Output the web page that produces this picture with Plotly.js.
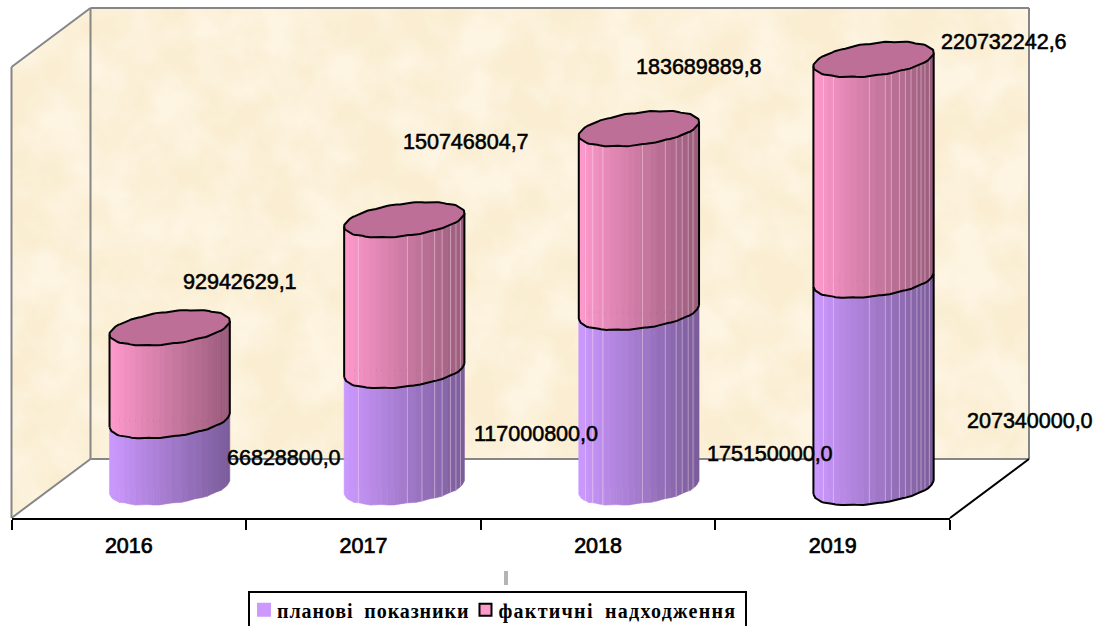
<!DOCTYPE html>
<html>
<head>
<meta charset="utf-8">
<script src="https://cdn.plot.ly/plotly-3.0.1.min.js"></script>
<style>
html,body{margin:0;padding:0;background:#fff;overflow:hidden}
.annotation-text{stroke:#000;stroke-width:.55px;letter-spacing:-.05px}
.xtick text{stroke:#000;stroke-width:.7px}
.legend .legendtext{font-size:20px !important;letter-spacing:.9px;word-spacing:5px;transform:translate(-13px,-3px)}
.legend .traces:nth-child(2) .legendtext{letter-spacing:1.27px}
.legend .legendsymbols{transform:translate(-6px,-3px)}
.legend .traces:nth-child(1) .legendsymbols path{stroke:#CC99FF !important;stroke-width:2px !important}
.legend .bg{height:35px}
</style>
</head>
<body>
<div id="chart" style="width:1096px;height:626px"></div>
<script>
// ---- data ----
const categories = ['2016', '2017', '2018', '2019'];
const plannedValues = [66828800.0, 117000800.0, 175150000.0, 207340000.0];
const actualValues = [92942629.1, 150746804.7, 183689889.8, 220732242.6];
const plannedName = 'планові показники';
const actualName = 'фактичні надходження\u00A0\u00A0\u00A0';

// ---- pseudo-3D scene, in axis units ----
const W = 1096, H = 626;
const axisLeft = 11.5, axisRight = 950, axisY = 518;
const depthX = 79 / 234.6, depthY = 59e6, wallMax = 451e6;
const rx = 0.236, rd = 0.2966, cylDepth = 0.517, cylBase = 30.5e6;
const xIdx = categories.map((c, i) => i);
const xCentre = xIdx.map(i => i + cylDepth * depthX);
const tau = Math.atan2(depthX * rd, rx);
const pxX = x => axisLeft + (x + 0.5) * (axisRight - axisLeft) / 4;
const pxY = v => axisY - v / 1e6;

const stripEdges = [0,.04,.083,.125,.166,.216,.266,.313,.363,.416,.465,.52,.598,.648,.715,.765,.812,.861,.895,.928,.964,1];
const seams = [
  [],
  [.118,.526,.647,.752,.815,.884,.93,.967],
  [.055,.116,.2,.53,.72,.81,.86,.91,.95],
  [.083,.166,.465,.598,.648,.715,.765,.812,.861,.895,.928,.964]
];
const plannedRGB = [204,153,255], actualRGB = [255,153,204];
const shade = (rgb, f) => `rgb(${rgb.map(c => Math.round(c * (1 - 0.4 * f))).join(',')})`;

const ang = f => tau - Math.acos(2 * f - 1);
const ptX = (i, t) => xCentre[i] + rx * Math.cos(t) + depthX * rd * Math.sin(t);
// the reference's facetted edge is slightly bumpy
const ptY = (v, t) => cylBase + v + depthY * rd * Math.sin(t) + 0.45e6 * Math.sin(15 * t);
const front = (i, v, fs) => ({x: fs.map(f => ptX(i, ang(f))), y: fs.map(f => ptY(v, ang(f)))});

const traces = [];
// real stacked bars: carry the data and the legend; the cylinder skin sits on them
traces.push({type:'bar', name:plannedName, x:xCentre, y:plannedValues, base:plannedValues.map(() => cylBase),
  width:rx*1.9, marker:{color:'#CC99FF', line:{width:0}}, hoverinfo:'skip'});
traces.push({type:'bar', name:actualName, x:xCentre, y:actualValues, base:plannedValues.map(v => cylBase + v),
  width:rx*1.9, marker:{color:'#FF99CC', line:{color:'#000', width:2}}, hoverinfo:'skip'});

function skin(rgb, lo, hi) {
  for (let k = 0; k < stripEdges.length - 1; k++) {
    const f0 = stripEdges[k], f1 = stripEdges[k + 1];
    const xs = [], ys = [];
    categories.forEach((c, i) => {
      const a = lo(i), b = hi(i);
      const sub = [f0, (f0 + f1) / 2, f1];
      const bot = front(i, a, sub), top = front(i, b, sub.slice().reverse());
      xs.push(...bot.x, ...top.x, bot.x[0], null);
      ys.push(...bot.y, ...top.y, bot.y[0], null);
    });
    const col = shade(rgb, (f0 + f1) / 2);
    traces.push({type:'scatter', mode:'lines', x:xs, y:ys, fill:'toself', fillcolor:col,
      line:{color:col, width:0.6}, showlegend:false, hoverinfo:'skip', cliponaxis:false});
  }
}
skin(plannedRGB, () => 0, i => plannedValues[i]);
skin(actualRGB, i => plannedValues[i], i => plannedValues[i] + actualValues[i]);

// seams
{
  const xs = [], ys = [];
  seams.forEach((list, i) => list.forEach(f => {
    const t = ang(f), X = ptX(i, t);
    xs.push(X, X, null);
    ys.push(ptY(0, t), ptY(plannedValues[i] + actualValues[i], t), null);
  }));
  traces.push({type:'scatter', mode:'lines', x:xs, y:ys, line:{color:'rgba(255,235,245,0.42)', width:1},
    showlegend:false, hoverinfo:'skip'});
}

// outlines
const arcF = [];
for (let k = 0; k <= 60; k++) arcF.push(k / 60);
function outlineTrace(parts) {
  const xs = [], ys = [];
  parts.forEach(p => { xs.push(...p.x, null); ys.push(...p.y, null); });
  return {type:'scatter', mode:'lines', x:xs, y:ys, line:{color:'#000', width:2},
    showlegend:false, hoverinfo:'skip'};
}
const parts = [];
categories.forEach((c, i) => {
  const p = plannedValues[i], s = p + actualValues[i];
  parts.push(front(i, p, arcF));
  const tl = ang(0), tr = ang(1);
  parts.push({x:[ptX(i, tl), ptX(i, tl)], y:[ptY(p, tl), ptY(s, tl)]});
  parts.push({x:[ptX(i, tr), ptX(i, tr)], y:[ptY(p, tr), ptY(s, tr)]});
});
// only the last cylinder keeps an outline on its lower section
{
  const i = 3, p = plannedValues[i], tl = ang(0), tr = ang(1);
  parts.push(front(i, 0, arcF));
  parts.push({x:[ptX(i, tl), ptX(i, tl)], y:[ptY(0, tl), ptY(p, tl)]});
  parts.push({x:[ptX(i, tr), ptX(i, tr)], y:[ptY(0, tr), ptY(p, tr)]});
}
traces.push(outlineTrace(parts));

// top caps
{
  const xs = [], ys = [];
  categories.forEach((c, i) => {
    const s = plannedValues[i] + actualValues[i];
    for (let k = 0; k <= 120; k++) {
      const t = k / 120 * 2 * Math.PI;
      xs.push(ptX(i, t)); ys.push(ptY(s, t));
    }
    xs.push(null); ys.push(null);
  });
  traces.push({type:'scatter', mode:'lines', x:xs, y:ys, fill:'toself', fillcolor:'#BD6F98',
    line:{color:'#000', width:2}, showlegend:false, hoverinfo:'skip'});
}

// data labels
const fmt = v => v.toFixed(1).replace('.', ',');
const plannedShift = [[114,-37],[132,-62.5],[131,-141],[156,-140]];
const actualShift = [[70,46.7],[62,78.7],[60.5,61.7],[130,18.4]];
const labelFont = {family:'Liberation Sans, Arial, sans-serif', size:21.6, color:'#000'};
const annotations = [];
categories.forEach((c, i) => {
  const p = plannedValues[i], a = actualValues[i];
  annotations.push({x:xCentre[i], y:cylBase + p, xref:'x', yref:'y', text:fmt(p), showarrow:false,
    xshift:plannedShift[i][0], yshift:plannedShift[i][1], font:labelFont});
  annotations.push({x:xCentre[i], y:cylBase + p + a, xref:'x', yref:'y', text:fmt(a), showarrow:false,
    xshift:actualShift[i][0], yshift:actualShift[i][1], font:labelFont});
});

// walls and floor (paper references, since they reach past the plot rectangle)
const L = -0.5, R = 3.5;
const P = (x, d, v) => `${pxX(x + d * depthX) / W},${1 - pxY(v + d * depthY) / H}`;
const edge = (a, b, color) => ({type:'path', xref:'paper', yref:'paper', layer:'below', path:`M${a}L${b}`,
  line:{color, width:2}});
const grey = '#868686';
const shapes = [
  edge(P(L,0,0), P(L,0,wallMax), grey),
  edge(P(L,0,wallMax), P(L,1,wallMax), grey),
  edge(P(L,1,wallMax), P(R,1,wallMax), grey),
  edge(P(L,1,0), P(L,1,wallMax), grey),
  edge(P(R,1,0), P(R,1,wallMax), grey),
  edge(P(L,0,0), P(L,1,0), grey),
  edge(P(L,1,0), P(R,1,0), grey),
  edge(P(R,0,0), P(R,1,0), '#000'),
  {type:'rect', xref:'paper', yref:'paper', layer:'above', x0:504/W, x1:508/W, y0:1-585/H, y1:1-571/H,
    fillcolor:'#B4B4B4', line:{width:0}}
];

// parchment texture for the two walls
const polyPx = pts => pts.map(p => pxX(p[0] + p[1] * depthX).toFixed(1) + ',' + pxY(p[2] + p[1] * depthY).toFixed(1)).join(' ');
const backPoly = polyPx([[L,1,0],[R,1,0],[R,1,wallMax],[L,1,wallMax]]);
const sidePoly = polyPx([[L,0,0],[L,1,0],[L,1,wallMax],[L,0,wallMax]]);
const svg = `<svg xmlns="http://www.w3.org/2000/svg" width="${W}" height="${H}" viewBox="0 0 ${W} ${H}">
<defs><filter id="n" x="0" y="0" width="100%" height="100%" color-interpolation-filters="sRGB"><feTurbulence type="fractalNoise" baseFrequency="0.02" numOctaves="4" seed="7"/>
<feColorMatrix type="matrix" values="0 0 0 0 0.98  0 0 0 0 0.93  0 0 0 0 0.82  2.6 0 0 0 -0.8"/></filter>
<clipPath id="c"><polygon points="${backPoly}"/><polygon points="${sidePoly}"/></clipPath></defs>
<g clip-path="url(#c)"><rect width="${W}" height="${H}" fill="#FDF4E1"/><rect width="${W}" height="${H}" filter="url(#n)"/></g></svg>`;

const layout = {
  width:W, height:H, margin:{l:0,r:0,t:0,b:0,pad:0,autoexpand:false},
  paper_bgcolor:'rgba(0,0,0,0)', plot_bgcolor:'rgba(0,0,0,0)',
  barmode:'overlay', hovermode:false,
  xaxis:{domain:[axisLeft/W, axisRight/W], range:[L,R], type:'linear',
    tickmode:'array', tickvals:xIdx, ticktext:categories, ticks:'', showgrid:false, zeroline:false,
    showline:true, linecolor:'#000', linewidth:2, ticklabelstandoff:7,
    tickfont:{family:'Liberation Sans, Arial, sans-serif', size:21.5, color:'#000'},
    minor:{tickmode:'array', tickvals:[-0.5,0.5,1.5,2.5,3.5], ticks:'outside', ticklen:10, tickwidth:2, tickcolor:'#000', showgrid:false}},
  yaxis:{domain:[1-axisY/H, 1], range:[0, axisY*1e6], visible:false, showgrid:false, zeroline:false},
  showlegend:true,
  legend:{orientation:'h', x:248/W, xanchor:'left', y:1-591/H, yanchor:'top', bgcolor:'#fff',
    bordercolor:'#000', borderwidth:2, traceorder:'normal', itemclick:false, itemdoubleclick:false,
    font:{family:'Liberation Serif, Times New Roman, serif', size:20.5, weight:700, color:'#000'}},
  shapes, annotations,
  images:[{source:'data:image/svg+xml;charset=utf-8,' + encodeURIComponent(svg), xref:'paper', yref:'paper',
    x:0, y:1, sizex:1, sizey:1, xanchor:'left', yanchor:'top', sizing:'stretch', layer:'below'}]
};
Plotly.newPlot('chart', traces, layout, {displayModeBar:false, responsive:false});
</script>
</body>
</html>
